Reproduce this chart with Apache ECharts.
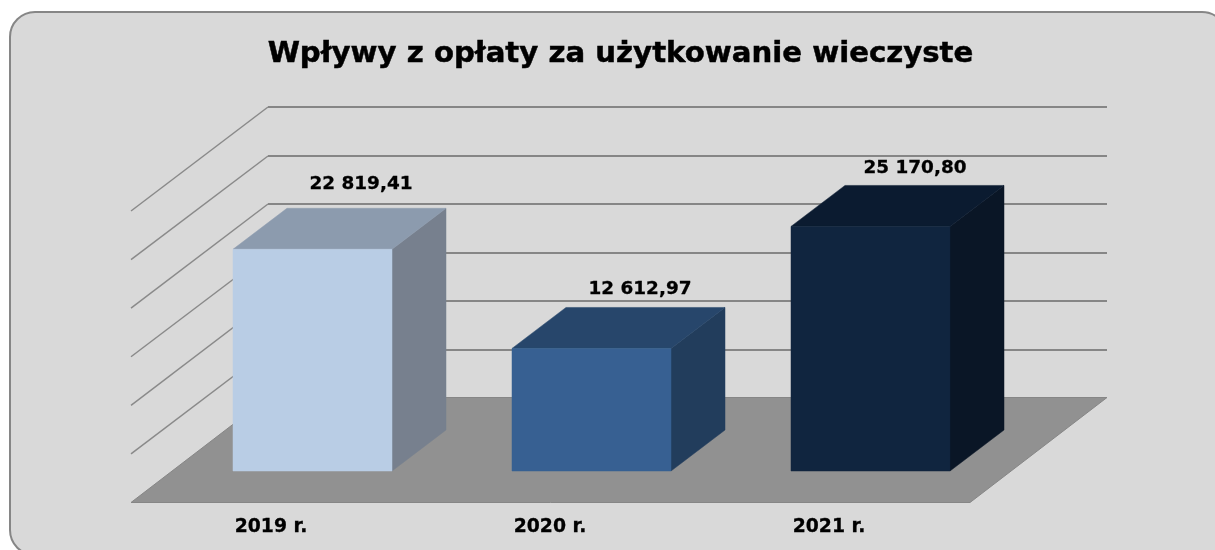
<!DOCTYPE html>
<html lang="pl">
<head>
<meta charset="utf-8">
<style>html,body{margin:0;padding:0;background:#fff}#c{width:1215px;height:550px}</style>
<script src="https://cdn.jsdelivr.net/npm/echarts@6/dist/echarts.min.js"></script>
</head>
<body>
<div id="c"></div>
<script>
const titleText = 'Wpływy z opłaty za użytkowanie wieczyste';
const categories = ['2019 r.', '2020 r.', '2021 r.'];
const values = [22819.41, 12612.97, 25170.80];
const wallTicks = [5000, 10000, 15000, 20000, 25000, 30000];

const fontFamily = '"DejaVu Sans", Verdana, sans-serif';
const faceColors = [
  { front: '#b9cde5', top: '#8c9bae', side: '#77808e' },
  { front: '#376092', top: '#27466b', side: '#223d5c' },
  { front: '#10253f', top: '#0b1b30', side: '#0a1626' }
];
const labelNudge = [[0, 1], [0, 7], [-4, 8]];
const WALL_DX = 137, WALL_DY = -105;
const BAR_DX = 54, BAR_DY = -41;
const BAR_SHIFT_X = 41.5, BAR_SHIFT_Y = -31.5, BAR_W = 159;

function fmt(v) {
  const parts = v.toFixed(2).split('.');
  return parts[0].replace(/\B(?=(\d{3})+$)/g, ' ') + ',' + parts[1];
}

function renderWall(params, api) {
  const y = api.coord([0, api.value(1)])[1];
  const backY = Math.round(y + WALL_DY + 1);
  return {
    type: 'group',
    children: [
      { type: 'line', shape: { x1: 131, y1: y, x2: 131 + WALL_DX, y2: backY }, style: { stroke: '#8a8a8a', lineWidth: 1.5 } },
      { type: 'line', shape: { x1: 131 + WALL_DX, y1: backY, x2: 1107, y2: backY }, style: { stroke: '#868686', lineWidth: 2 } }
    ]
  };
}

function renderFloor(params, api) {
  const cs = params.coordSys;
  const y = cs.y + cs.height;
  return {
    type: 'polygon',
    shape: { points: [[131, y], [970, y], [970 + WALL_DX, y + WALL_DY], [131 + WALL_DX, y + WALL_DY]] },
    style: { fill: '#919191', stroke: '#868686', lineWidth: 1 }
  };
}

function renderBar(params, api) {
  const i = params.dataIndex;
  const c = api.coord([api.value(0), api.value(1)]);
  const base = api.coord([api.value(0), 0]);
  const l = c[0] + BAR_SHIFT_X - BAR_W / 2, r = l + BAR_W;
  const t = c[1] + BAR_SHIFT_Y, b = base[1] + BAR_SHIFT_Y;
  const col = faceColors[i];
  const edge = (f) => ({ fill: f, stroke: f, lineWidth: 0.5 });
  return {
    type: 'group',
    children: [
      { type: 'polygon', shape: { points: [[r, t], [r + BAR_DX, t + BAR_DY], [r + BAR_DX, b + BAR_DY], [r, b]] }, style: edge(col.side) },
      { type: 'polygon', shape: { points: [[l, t], [l + BAR_DX, t + BAR_DY], [r + BAR_DX, t + BAR_DY], [r, t]] }, style: edge(col.top) },
      { type: 'rect', shape: { x: l, y: t, width: BAR_W, height: b - t }, style: edge(col.front) },
      { type: 'text', x: c[0] + BAR_SHIFT_X + 48.5 + labelNudge[i][0], y: t + BAR_DY - 25 + labelNudge[i][1],
        style: { text: fmt(values[i]), fill: '#000', font: 'bold 18.4px ' + fontFamily, textAlign: 'center', textVerticalAlign: 'middle', stroke: '#000', lineWidth: 0.3 } }
    ]
  };
}

const chart = echarts.init(document.getElementById('c'), null, { renderer: 'canvas' });
chart.setOption({
  animation: false,
  backgroundColor: '#fff',
  title: {
    text: titleText, left: 615.5, top: 35, textAlign: 'center',
    textStyle: { color: '#000', fontFamily, fontWeight: 'bold', fontSize: 29.2, textBorderColor: '#000', textBorderWidth: 0.5 }
  },
  graphic: [{
    type: 'rect', z: -10, silent: true,
    shape: { x: 10, y: 12, width: 1217, height: 543, r: 25 },
    style: { fill: '#d9d9d9', stroke: '#868686', lineWidth: 2 }
  }],
  grid: { left: 131.5, width: 837, top: 211, height: 291.5 },
  xAxis: {
    type: 'category', data: categories,
    axisLine: { show: false }, axisTick: { show: false }, splitLine: { show: false },
    axisLabel: { color: '#000', fontFamily, fontWeight: 'bold', fontSize: 18.8, margin: 15, textBorderColor: '#000', textBorderWidth: 0.3 }
  },
  yAxis: { type: 'value', min: 0, max: 30000, interval: 5000, show: false, splitLine: { show: false } },
  series: [
    { type: 'custom', z: 2, clip: false, silent: true, renderItem: renderWall, encode: { x: 0, y: 1 },
      data: wallTicks.map(v => [0, v]) },
    { type: 'custom', z: 3, clip: false, silent: true, renderItem: renderFloor, encode: { x: 0, y: 1 },
      data: [[0, 0]] },
    { type: 'custom', z: 4, clip: false, silent: true, renderItem: renderBar, encode: { x: 0, y: 1 },
      data: values.map((v, i) => [i, v]) }
  ]
});
</script>
</body>
</html>
